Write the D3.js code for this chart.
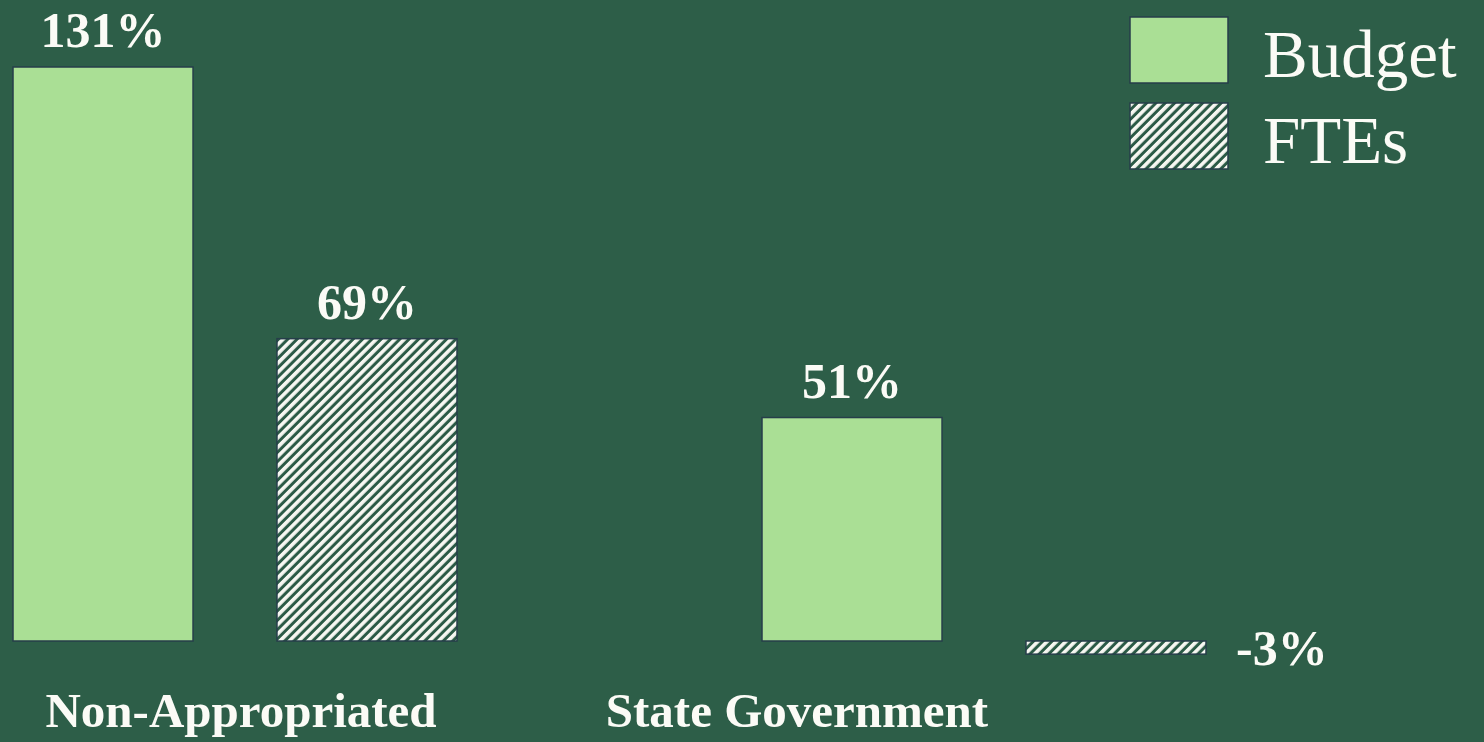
<!DOCTYPE html>
<html>
<head>
<meta charset="utf-8">
<script src="https://cdn.jsdelivr.net/npm/d3@7"></script>
<style>
  html, body { margin: 0; padding: 0; background: #2d5e48; }
  svg { display: block; }
  text { font-family: "Liberation Serif", "Times New Roman", serif; fill: #fbfbf6; }
</style>
</head>
<body>
<div id="chart"></div>
<script>
// data
const categories = ['Non-Appropriated', 'State Government'];
const seriesNames = ['Budget', 'FTEs'];
const budgetValues = [131, 51];
const fteValues = [69, -3];

const width = 1484, height = 742;
const margin = { top: 67, left: 13, baseline: 641 };

const rows = categories.map((c, i) => ({
  category: c,
  values: [
    { series: 'Budget', value: budgetValues[i] },
    { series: 'FTEs', value: fteValues[i] }
  ]
}));

const svg = d3.select('#chart').append('svg')
  .attr('width', width)
  .attr('height', height);

svg.append('rect')
  .attr('width', width)
  .attr('height', height)
  .attr('fill', '#2d5e48');

// hatch pattern for FTEs
const defs = svg.append('defs');
const pat = defs.append('pattern')
  .attr('id', 'hatch')
  .attr('patternUnits', 'userSpaceOnUse')
  .attr('width', 6.6)
  .attr('height', 6.6)
  .attr('patternTransform', 'rotate(45)');
pat.append('rect').attr('width', 6.6).attr('height', 6.6).attr('fill', '#2b5a46');
pat.append('rect').attr('width', 3.6).attr('height', 6.6).attr('fill', '#f7f7f2');

const x0 = d3.scaleBand()
  .domain(categories)
  .range([margin.left, margin.left + 749 * categories.length]);

const x1 = d3.scaleBand()
  .domain(seriesNames)
  .range([0, 444])
  .paddingInner(0.318);

const yScale = d3.scaleLinear()
  .domain([0, d3.max(budgetValues.concat(fteValues))])
  .range([margin.baseline, margin.top]);

const fillFor = s => s === 'Budget' ? '#aadf95' : 'url(#hatch)';

const groups = svg.selectAll('.group')
  .data(rows)
  .join('g')
    .attr('class', 'group')
    .attr('transform', d => `translate(${x0(d.category)},0)`);

groups.selectAll('.bar')
  .data(d => d.values)
  .join('rect')
    .attr('class', 'bar')
    .attr('x', d => x1(d.series))
    .attr('width', x1.bandwidth())
    .attr('y', d => yScale(Math.max(0, d.value)))
    .attr('height', d => Math.abs(yScale(d.value) - yScale(0)))
    .attr('fill', d => fillFor(d.series))
    .attr('stroke', '#263e4a')
    .attr('stroke-width', 1.5);

// value labels
groups.selectAll('.value')
  .data(d => d.values)
  .join('text')
    .attr('class', 'value')
    .attr('font-weight', 'bold')
    .attr('font-size', 50)
    .attr('x', d => d.value >= 0 ? x1(d.series) + x1.bandwidth() / 2 : x1(d.series) + x1.bandwidth() + 30)
    .attr('y', d => d.value >= 0 ? yScale(d.value) - 20 : (yScale(0) + yScale(d.value)) / 2)
    .attr('dy', d => d.value >= 0 ? 0 : '0.35em')
    .attr('text-anchor', d => d.value >= 0 ? 'middle' : 'start')
    .text(d => d.value + '%');

// category labels
const labelX = d3.scalePoint()
  .domain(categories)
  .range([241, 797]);

svg.selectAll('.cat')
  .data(categories)
  .join('text')
    .attr('class', 'cat')
    .attr('font-weight', 'bold')
    .attr('font-size', 49)
    .attr('text-anchor', 'middle')
    .attr('x', d => labelX(d))
    .attr('y', 727)
    .text(d => d);

// legend
const legend = svg.append('g')
  .attr('transform', 'translate(1130,17)');

const legendItems = legend.selectAll('.item')
  .data(seriesNames)
  .join('g')
    .attr('class', 'item')
    .attr('transform', (d, i) => `translate(0,${i * 86})`);

legendItems.append('rect')
  .attr('width', 98)
  .attr('height', 66)
  .attr('fill', d => fillFor(d))
  .attr('stroke', '#263e4a')
  .attr('stroke-width', 1.5);

legendItems.append('text')
  .attr('x', 133)
  .attr('y', 60)
  .attr('font-size', 67)
  .text(d => d);
</script>
</body>
</html>
